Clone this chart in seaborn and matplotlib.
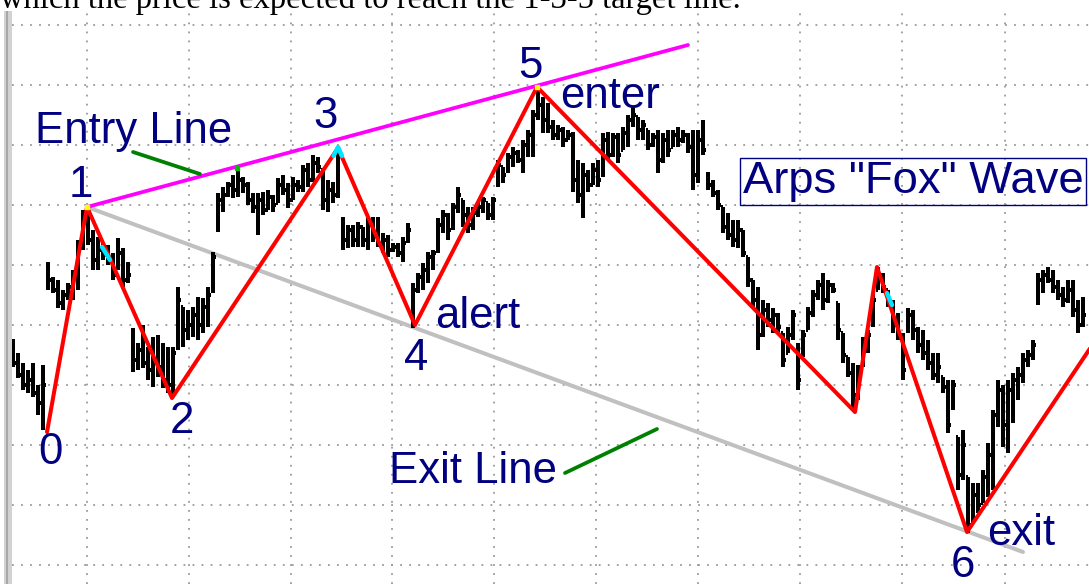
import numpy as np
import matplotlib
matplotlib.use("Agg")
import matplotlib.pyplot as plt
from matplotlib.ticker import MultipleLocator
from matplotlib.patches import Rectangle
import seaborn as sns

# ---------------- data (bar index, price units) ----------------
highs = [286,272,262,255,262,240,260,363,348,345,
         335,342,355,385,415,418,395,388,382,380,
         372,387,377,363,297,282,300,278,288,290,
         282,278,278,338,318,315,318,328,327,338,
         373,432,438,443,450,457,448,443,432,432,
         433,435,430,447,450,442,448,445,460,462,
         470,468,455,445,443,475,408,400,400,403,
         398,407,408,408,392,390,382,382,388,402,
         342,352,362,373,375,407,415,412,422,438,
         425,418,418,423,428,422,428,465,458,472,
         478,475,485,495,515,535,528,522,505,500,
         498,495,493,465,462,455,462,465,492,493,
         492,492,498,510,518,508,505,495,492,495,
         492,495,495,498,495,492,495,495,505,453,
         445,435,418,412,405,405,395,368,345,338,
         325,322,317,312,292,298,315,282,295,318,
         335,345,352,345,342,322,292,268,262,260,
         288,295,332,358,352,335,325,312,292,317,
         315,298,295,285,272,272,248,245,245,188,
         195,148,142,142,155,182,215,245,240,245,
         252,258,272,275,285,352,355,358,355,345,
         338,345,345,325,328]
lows = [258,247,235,232,228,210,195,335,332,317,
        315,325,325,335,375,380,355,355,365,360,
        345,355,338,342,253,255,257,245,238,248,
        237,232,228,275,278,285,288,285,292,298,
        332,393,413,428,427,428,432,420,412,390,
        410,415,413,422,430,417,425,433,433,438,
        443,452,415,413,422,427,375,377,378,378,
        378,375,383,378,372,368,373,368,363,382,
        297,332,335,342,355,372,392,385,395,412,
        398,392,395,408,412,405,405,438,442,452,
        458,462,452,468,468,505,492,492,485,485,
        478,485,433,422,407,433,440,438,448,465,
        468,462,475,478,498,485,485,475,478,452,
        462,468,478,478,482,472,435,442,470,435,
        428,415,392,385,378,377,368,338,318,275,
        288,298,292,292,258,272,285,235,268,295,
        308,325,315,322,332,285,262,248,215,225,
        258,272,298,335,332,318,292,285,245,292,
        285,272,265,255,245,242,232,192,215,135,
        145,92,102,112,122,128,135,198,178,172,
        202,225,242,258,265,320,332,342,332,325,
        318,322,308,292,298]
opens = [280,262,250,240,245,232,222,340,345,335,
         322,330,335,350,380,408,385,365,375,370,
         365,358,372,345,290,265,275,262,255,265,
         258,245,240,285,318,295,300,310,300,318,
         335,400,425,430,440,435,445,440,425,418,
         425,415,428,422,440,435,425,440,438,455,
         445,462,455,425,435,430,400,385,395,385,
         398,385,400,392,380,385,375,378,372,385,
         305,335,348,355,368,375,400,410,400,418,
         425,410,400,412,418,422,410,440,458,455,
         468,472,465,480,490,510,520,505,498,490,
         495,485,490,445,430,450,440,455,450,485,
         470,488,475,492,505,508,495,495,480,488,
         465,485,478,490,485,490,478,450,485,450,
         440,432,418,398,390,385,395,368,345,325,
         290,315,305,310,292,272,290,280,268,295,
         312,330,340,325,340,322,292,268,252,230,
         260,282,300,335,350,335,322,300,290,295,
         310,295,280,272,262,250,248,238,220,188,
         150,148,102,130,122,148,170,210,235,200,
         235,245,250,265,270,325,345,350,345,338,
         330,325,335,315,300]
closes = [262,250,240,245,232,222,240,345,335,322,
          330,338,350,378,408,385,365,375,370,365,
          350,372,345,350,265,275,262,255,265,258,
          245,240,272,325,295,300,310,300,318,330,
          368,425,430,440,435,445,440,425,418,425,
          415,428,420,440,435,425,440,438,455,445,
          462,458,425,435,430,470,385,395,385,398,
          385,400,392,380,385,375,378,372,382,395,
          335,348,355,368,372,400,410,395,418,430,
          410,400,412,418,425,410,425,460,450,468,
          472,465,480,490,510,520,505,498,490,495,
          485,490,445,430,450,440,455,445,485,470,
          488,470,492,505,510,495,500,480,488,465,
          485,475,490,485,490,478,450,485,475,440,
          432,420,398,390,385,395,372,345,325,290,
          315,305,310,298,265,290,310,245,290,312,
          330,340,325,340,335,295,270,252,230,250,
          282,290,325,350,338,322,300,290,255,310,
          295,280,272,262,250,258,238,200,240,150,
          180,100,130,120,148,170,210,235,200,235,
          245,250,265,270,280,345,350,345,338,330,
          325,335,315,300,310]

# wave pivots (0,1,2,3,4,5, a, b, 6, continuation)
wave_x = [6.8, 14.8, 31.8, 65.0, 80.4, 104.8, 168.4, 172.8, 190.8, 216.4]
wave_y = [193, 418, 227, 477, 300, 538, 213, 358, 93, 284]
entry_x = [14.8, 135.0]
entry_y = [418, 580]
exit_x = [14.8, 202.0]
exit_y = [418, 73]
ptr_entry_x = [24.0, 37.4]
ptr_entry_y = [473, 451]
ptr_exit_x = [110.4, 128.8]
ptr_exit_y = [152, 196]

labels = ["0", "1", "2", "3", "4", "5", "6"]
label_x = [7.4, 13.6, 33.8, 62.6, 80.6, 103.4, 190.0]
label_y = [161, 428, 192, 497, 255, 547, 48]

words = ["alert", "enter", "exit", "Entry Line", "Exit Line"]
word_x = [84.4, 109.4, 194.8, 4.4, 75.2]
word_y = [297, 517, 80, 482, 142]

grid_x = [14.8, 35.2, 55.6, 75.8, 96.2, 116.6, 137.0, 157.4, 177.8, 198.4]

assert len(highs) == len(lows) == len(opens) == len(closes)

# ---------------- figure ----------------
sns.set_theme(style="white")
plt.rcParams['font.family'] = ['Liberation Sans', 'DejaVu Sans']

fig = plt.figure(figsize=(10.89, 5.84), dpi=100)
fig.patch.set_facecolor("white")
ax = fig.add_axes([12/1089, 0, 1077/1089, 573/584])
ax.set_facecolor("white")
ax.set_xlim(-0.2, 215.2)
ax.set_ylim(41, 614)

ax.set_xticks(grid_x)
ax.yaxis.set_major_locator(MultipleLocator(60))
ax.grid(True, color="#9a9a9a", linestyle=(0, (1, 4)), linewidth=1.3)
ax.tick_params(left=False, bottom=False, labelleft=False, labelbottom=False)
for s in ax.spines.values():
    s.set_visible(False)

# left border
fig.add_artist(Rectangle((3.5/1089, 0), 8.5/1089, 573/584, transform=fig.transFigure,
                         fc="#d2d2d2", ec="none"))
fig.add_artist(Rectangle((5.5/1089, 0), 2.5/1089, 573/584, transform=fig.transFigure,
                         fc="#a8a8a8", ec="none"))

# exit line (gray) and entry line (magenta)
sns.lineplot(x=exit_x, y=exit_y, ax=ax, color="#c0c0c0", linewidth=2.9, zorder=2)
sns.lineplot(x=entry_x, y=entry_y, ax=ax, color="#ff00ff", linewidth=2.7, zorder=2)

# OHLC bars
idx = np.arange(len(highs))
bar_kw = dict(color="black", linewidth=1.6, zorder=3, antialiased=False, capstyle="butt")
ax.vlines(idx, lows, highs, **bar_kw)
ax.hlines(opens, idx - 0.5, idx, **bar_kw)
ax.hlines(closes, idx, idx + 0.5, **bar_kw)

# wave
sns.lineplot(x=wave_x, y=wave_y, ax=ax, sort=False, estimator=None,
             color="#ff0000", linewidth=2.9, zorder=4)

# pointers
sns.lineplot(x=ptr_entry_x, y=ptr_entry_y, ax=ax, color="#008000", linewidth=2.7, zorder=4)
sns.lineplot(x=ptr_exit_x, y=ptr_exit_y, ax=ax, color="#008000", linewidth=2.7, zorder=4)

# small highlight marks
ax.plot([17.8, 19.4], [378, 365], color="#00e5ff", linewidth=3.2, zorder=5)
ax.plot([64.1, 65.0, 65.8], [469, 478, 469], color="#00e5ff", linewidth=3.2, zorder=5)
ax.plot([174.8, 175.8], [332, 320], color="#00e5ff", linewidth=3.2, zorder=5)
ax.plot([14.8, 104.8], [418, 538], linestyle="none", marker="s", markersize=3.5,
        color="#ffff00", zorder=6)
ax.plot([44.8], [457], linestyle="none", marker="s", markersize=2.5, color="#00c000", zorder=6)

navy = "#000080"
fs = 31.5
for t, x, y in zip(labels, label_x, label_y):
    ax.text(x, y, t, color=navy, fontsize=fs, ha="center", va="baseline", zorder=7)
for t, x, y in zip(words, word_x, word_y):
    ax.text(x, y, t, color=navy, fontsize=fs, ha="left", va="baseline", zorder=7)

ax.text(146.0, 432, 'Arps "Fox" Wave', color=navy, fontsize=32.7, ha="left", va="baseline",
        zorder=7, bbox=dict(boxstyle="square,pad=0.06", fc="none", ec=navy, lw=1.0))

# clipped caption at the very top
fig.text(0.0, 1 - 8/584, "which the price is expected to reach the 1-3-5 target line.",
         family=["Liberation Serif", "DejaVu Serif"], fontsize=23.5, color="black",
         ha="left", va="baseline")

fig.savefig("out.png", dpi=100)
